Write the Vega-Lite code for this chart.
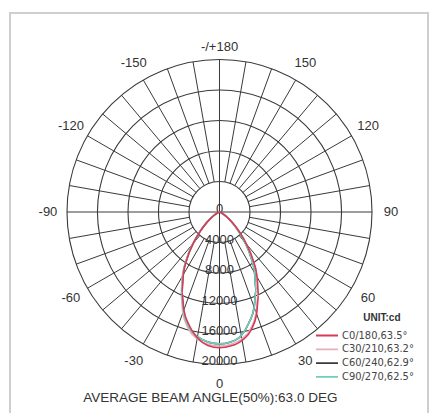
{
  "$schema": "https://vega.github.io/schema/vega-lite/v6.json",
  "width": 418,
  "height": 401,
  "autosize": "none",
  "padding": {"left": 10, "top": 13, "right": 9, "bottom": 0},
  "background": "white",
  "config": {"view": {"stroke": "#cfcfcf", "strokeWidth": 2}},
  "datasets": {
    "rings": [{"v": 4000}, {"v": 8000}, {"v": 12000}, {"v": 16000}, {"v": 20000}],
    "spokes": [
      {"a": -170}, {"a": -160}, {"a": -150}, {"a": -140}, {"a": -130}, {"a": -120}, {"a": -110}, {"a": -100}, {"a": -90},
      {"a": -80}, {"a": -70}, {"a": -60}, {"a": -50}, {"a": -40}, {"a": -30}, {"a": -20}, {"a": -10}, {"a": 0},
      {"a": 10}, {"a": 20}, {"a": 30}, {"a": 40}, {"a": 50}, {"a": 60}, {"a": 70}, {"a": 80}, {"a": 90},
      {"a": 100}, {"a": 110}, {"a": 120}, {"a": 130}, {"a": 140}, {"a": 150}, {"a": 160}, {"a": 170}, {"a": 180}
    ],
    "angleLabels": [
      {"a": 0, "label": "0"}, {"a": 30, "label": "30"}, {"a": 60, "label": "60"}, {"a": 90, "label": "90"},
      {"a": 120, "label": "120"}, {"a": 150, "label": "150"},
      {"a": -30, "label": "-30"}, {"a": -60, "label": "-60"}, {"a": -90, "label": "-90"},
      {"a": -120, "label": "-120"}, {"a": -150, "label": "-150"}
    ],
    "ringLabels": [
      {"v": 0, "label": "0"}, {"v": 4000, "label": "4000"}, {"v": 8000, "label": "8000"},
      {"v": 12000, "label": "12000"}, {"v": 16000, "label": "16000"}, {"v": 20000, "label": "20000"}
    ],
    "curves": [
      {"s": "C60/240,62.9°", "a": -90, "cd": 0}, {"s": "C60/240,62.9°", "a": -80, "cd": 0},
      {"s": "C60/240,62.9°", "a": -75, "cd": 35}, {"s": "C60/240,62.9°", "a": -70, "cd": 120}, {"s": "C60/240,62.9°", "a": -65, "cd": 310},
      {"s": "C60/240,62.9°", "a": -60, "cd": 690}, {"s": "C60/240,62.9°", "a": -55, "cd": 1300}, {"s": "C60/240,62.9°", "a": -50, "cd": 2250},
      {"s": "C60/240,62.9°", "a": -45, "cd": 3630}, {"s": "C60/240,62.9°", "a": -40, "cd": 5360}, {"s": "C60/240,62.9°", "a": -35, "cd": 7440},
      {"s": "C60/240,62.9°", "a": -30, "cd": 9600}, {"s": "C60/240,62.9°", "a": -25, "cd": 11760}, {"s": "C60/240,62.9°", "a": -20, "cd": 13840},
      {"s": "C60/240,62.9°", "a": -15, "cd": 15570}, {"s": "C60/240,62.9°", "a": -10, "cd": 16610}, {"s": "C60/240,62.9°", "a": -5, "cd": 17130},
      {"s": "C60/240,62.9°", "a": 0, "cd": 17300}, {"s": "C60/240,62.9°", "a": 5, "cd": 17100}, {"s": "C60/240,62.9°", "a": 10, "cd": 16450},
      {"s": "C60/240,62.9°", "a": 15, "cd": 15000}, {"s": "C60/240,62.9°", "a": 20, "cd": 13300}, {"s": "C60/240,62.9°", "a": 25, "cd": 11300},
      {"s": "C60/240,62.9°", "a": 30, "cd": 9200}, {"s": "C60/240,62.9°", "a": 35, "cd": 7150}, {"s": "C60/240,62.9°", "a": 40, "cd": 5150},
      {"s": "C60/240,62.9°", "a": 45, "cd": 3480}, {"s": "C60/240,62.9°", "a": 50, "cd": 2160}, {"s": "C60/240,62.9°", "a": 55, "cd": 1250},
      {"s": "C60/240,62.9°", "a": 60, "cd": 660}, {"s": "C60/240,62.9°", "a": 65, "cd": 300}, {"s": "C60/240,62.9°", "a": 70, "cd": 115},
      {"s": "C60/240,62.9°", "a": 75, "cd": 34}, {"s": "C60/240,62.9°", "a": 80, "cd": 0}, {"s": "C60/240,62.9°", "a": 90, "cd": 0},

      {"s": "C30/210,63.2°", "a": -90, "cd": 0}, {"s": "C30/210,63.2°", "a": -80, "cd": 0},
      {"s": "C30/210,63.2°", "a": -75, "cd": 35}, {"s": "C30/210,63.2°", "a": -70, "cd": 122}, {"s": "C30/210,63.2°", "a": -65, "cd": 315},
      {"s": "C30/210,63.2°", "a": -60, "cd": 700}, {"s": "C30/210,63.2°", "a": -55, "cd": 1320}, {"s": "C30/210,63.2°", "a": -50, "cd": 2280},
      {"s": "C30/210,63.2°", "a": -45, "cd": 3690}, {"s": "C30/210,63.2°", "a": -40, "cd": 5450}, {"s": "C30/210,63.2°", "a": -35, "cd": 7560},
      {"s": "C30/210,63.2°", "a": -30, "cd": 9760}, {"s": "C30/210,63.2°", "a": -25, "cd": 11950}, {"s": "C30/210,63.2°", "a": -20, "cd": 14060},
      {"s": "C30/210,63.2°", "a": -15, "cd": 15820}, {"s": "C30/210,63.2°", "a": -10, "cd": 16880}, {"s": "C30/210,63.2°", "a": -5, "cd": 17400},
      {"s": "C30/210,63.2°", "a": 0, "cd": 17580}, {"s": "C30/210,63.2°", "a": 5, "cd": 17400}, {"s": "C30/210,63.2°", "a": 10, "cd": 16880},
      {"s": "C30/210,63.2°", "a": 15, "cd": 15820}, {"s": "C30/210,63.2°", "a": 20, "cd": 14060}, {"s": "C30/210,63.2°", "a": 25, "cd": 11950},
      {"s": "C30/210,63.2°", "a": 30, "cd": 9760}, {"s": "C30/210,63.2°", "a": 35, "cd": 7560}, {"s": "C30/210,63.2°", "a": 40, "cd": 5450},
      {"s": "C30/210,63.2°", "a": 45, "cd": 3690}, {"s": "C30/210,63.2°", "a": 50, "cd": 2280}, {"s": "C30/210,63.2°", "a": 55, "cd": 1320},
      {"s": "C30/210,63.2°", "a": 60, "cd": 700}, {"s": "C30/210,63.2°", "a": 65, "cd": 315}, {"s": "C30/210,63.2°", "a": 70, "cd": 122},
      {"s": "C30/210,63.2°", "a": 75, "cd": 35}, {"s": "C30/210,63.2°", "a": 80, "cd": 0}, {"s": "C30/210,63.2°", "a": 90, "cd": 0},

      {"s": "C90/270,62.5°", "a": -90, "cd": 0}, {"s": "C90/270,62.5°", "a": -80, "cd": 0},
      {"s": "C90/270,62.5°", "a": -75, "cd": 35}, {"s": "C90/270,62.5°", "a": -70, "cd": 120}, {"s": "C90/270,62.5°", "a": -65, "cd": 310},
      {"s": "C90/270,62.5°", "a": -60, "cd": 690}, {"s": "C90/270,62.5°", "a": -55, "cd": 1300}, {"s": "C90/270,62.5°", "a": -50, "cd": 2250},
      {"s": "C90/270,62.5°", "a": -45, "cd": 3630}, {"s": "C90/270,62.5°", "a": -40, "cd": 5360}, {"s": "C90/270,62.5°", "a": -35, "cd": 7440},
      {"s": "C90/270,62.5°", "a": -30, "cd": 9600}, {"s": "C90/270,62.5°", "a": -25, "cd": 11760}, {"s": "C90/270,62.5°", "a": -20, "cd": 13840},
      {"s": "C90/270,62.5°", "a": -15, "cd": 15570}, {"s": "C90/270,62.5°", "a": -10, "cd": 16610}, {"s": "C90/270,62.5°", "a": -5, "cd": 17130},
      {"s": "C90/270,62.5°", "a": 0, "cd": 17300}, {"s": "C90/270,62.5°", "a": 5, "cd": 17100}, {"s": "C90/270,62.5°", "a": 10, "cd": 16450},
      {"s": "C90/270,62.5°", "a": 15, "cd": 15000}, {"s": "C90/270,62.5°", "a": 20, "cd": 13300}, {"s": "C90/270,62.5°", "a": 25, "cd": 11300},
      {"s": "C90/270,62.5°", "a": 30, "cd": 9200}, {"s": "C90/270,62.5°", "a": 35, "cd": 7150}, {"s": "C90/270,62.5°", "a": 40, "cd": 5150},
      {"s": "C90/270,62.5°", "a": 45, "cd": 3480}, {"s": "C90/270,62.5°", "a": 50, "cd": 2160}, {"s": "C90/270,62.5°", "a": 55, "cd": 1250},
      {"s": "C90/270,62.5°", "a": 60, "cd": 660}, {"s": "C90/270,62.5°", "a": 65, "cd": 300}, {"s": "C90/270,62.5°", "a": 70, "cd": 115},
      {"s": "C90/270,62.5°", "a": 75, "cd": 34}, {"s": "C90/270,62.5°", "a": 80, "cd": 0}, {"s": "C90/270,62.5°", "a": 90, "cd": 0},

      {"s": "C0/180,63.5°", "a": -90, "cd": 0}, {"s": "C0/180,63.5°", "a": -80, "cd": 0},
      {"s": "C0/180,63.5°", "a": -75, "cd": 34}, {"s": "C0/180,63.5°", "a": -70, "cd": 120}, {"s": "C0/180,63.5°", "a": -65, "cd": 305},
      {"s": "C0/180,63.5°", "a": -60, "cd": 680}, {"s": "C0/180,63.5°", "a": -55, "cd": 1290}, {"s": "C0/180,63.5°", "a": -50, "cd": 2220},
      {"s": "C0/180,63.5°", "a": -45, "cd": 3590}, {"s": "C0/180,63.5°", "a": -40, "cd": 5300}, {"s": "C0/180,63.5°", "a": -35, "cd": 7340},
      {"s": "C0/180,63.5°", "a": -30, "cd": 9480}, {"s": "C0/180,63.5°", "a": -25, "cd": 11620}, {"s": "C0/180,63.5°", "a": -20, "cd": 13670},
      {"s": "C0/180,63.5°", "a": -15, "cd": 15380}, {"s": "C0/180,63.5°", "a": -10, "cd": 16750}, {"s": "C0/180,63.5°", "a": -5, "cd": 17560},
      {"s": "C0/180,63.5°", "a": 0, "cd": 17800}, {"s": "C0/180,63.5°", "a": 5, "cd": 17620}, {"s": "C0/180,63.5°", "a": 10, "cd": 17090},
      {"s": "C0/180,63.5°", "a": 15, "cd": 16020}, {"s": "C0/180,63.5°", "a": 20, "cd": 14240}, {"s": "C0/180,63.5°", "a": 25, "cd": 12100},
      {"s": "C0/180,63.5°", "a": 30, "cd": 9880}, {"s": "C0/180,63.5°", "a": 35, "cd": 7650}, {"s": "C0/180,63.5°", "a": 40, "cd": 5520},
      {"s": "C0/180,63.5°", "a": 45, "cd": 3740}, {"s": "C0/180,63.5°", "a": 50, "cd": 2310}, {"s": "C0/180,63.5°", "a": 55, "cd": 1340},
      {"s": "C0/180,63.5°", "a": 60, "cd": 710}, {"s": "C0/180,63.5°", "a": 65, "cd": 320}, {"s": "C0/180,63.5°", "a": 70, "cd": 125},
      {"s": "C0/180,63.5°", "a": 75, "cd": 36}, {"s": "C0/180,63.5°", "a": 80, "cd": 0}, {"s": "C0/180,63.5°", "a": 90, "cd": 0}
    ]
  },
  "layer": [
    {
      "data": {"name": "rings"},
      "mark": {"type": "arc", "filled": false, "fill": null, "stroke": "#3a3a3a", "strokeWidth": 1.1, "theta": 0, "theta2": 6.2832},
      "encoding": {
        "x": {"datum": 0, "type": "quantitative", "scale": {"domain": [-27476, 27345], "nice": false, "zero": false}, "axis": null},
        "y": {"datum": 0, "type": "quantitative", "scale": {"domain": [-26492, 26099], "nice": false, "zero": false}, "axis": null},
        "radius": {"field": "v", "type": "quantitative", "stack": null, "scale": {"type": "linear", "domain": [0, 20000], "range": [0, 152.5], "zero": true}, "legend": null}
      }
    },
    {
      "data": {"name": "spokes"},
      "transform": [
        {"calculate": "4000 * sin(datum.a * PI / 180)", "as": "x1"},
        {"calculate": "-4000 * cos(datum.a * PI / 180)", "as": "y1"},
        {"calculate": "20000 * sin(datum.a * PI / 180)", "as": "x2"},
        {"calculate": "-20000 * cos(datum.a * PI / 180)", "as": "y2"}
      ],
      "mark": {"type": "rule", "stroke": "#3a3a3a", "strokeWidth": 1},
      "encoding": {
        "x": {"field": "x1", "type": "quantitative", "scale": {"domain": [-27476, 27345], "nice": false, "zero": false}, "axis": null},
        "y": {"field": "y1", "type": "quantitative", "scale": {"domain": [-26492, 26099], "nice": false, "zero": false}, "axis": null},
        "x2": {"field": "x2"},
        "y2": {"field": "y2"}
      }
    },
    {
      "data": {"values": [{}]},
      "mark": {"type": "rule", "stroke": "#3a3a3a", "strokeWidth": 1},
      "encoding": {
        "x": {"datum": -4000, "type": "quantitative", "scale": {"domain": [-27476, 27345], "nice": false, "zero": false}, "axis": null},
        "x2": {"datum": 4000},
        "y": {"datum": 0, "type": "quantitative", "scale": {"domain": [-26492, 26099], "nice": false, "zero": false}, "axis": null}
      }
    },
    {
      "data": {"values": [{}]},
      "mark": {"type": "rule", "stroke": "#3a3a3a", "strokeWidth": 1},
      "encoding": {
        "x": {"datum": 0, "type": "quantitative", "scale": {"domain": [-27476, 27345], "nice": false, "zero": false}, "axis": null},
        "y": {"datum": -4000, "type": "quantitative", "scale": {"domain": [-26492, 26099], "nice": false, "zero": false}, "axis": null},
        "y2": {"datum": 4000}
      }
    },
    {
      "data": {"name": "ringLabels"},
      "transform": [{"calculate": "-datum.v", "as": "neg"}],
      "mark": {"type": "text", "font": "Liberation Sans", "fontSize": 13, "fill": "#333", "align": "center", "baseline": "middle", "dy": -3},
      "encoding": {
        "x": {"datum": 0, "type": "quantitative", "scale": {"domain": [-27476, 27345], "nice": false, "zero": false}, "axis": null},
        "y": {"field": "neg", "type": "quantitative", "scale": {"domain": [-26492, 26099], "nice": false, "zero": false}, "axis": null},
        "text": {"field": "label"}
      }
    },
    {
      "data": {"name": "curves"},
      "transform": [
        {"calculate": "datum.cd * sin(datum.a * PI / 180)", "as": "x"},
        {"calculate": "-datum.cd * cos(datum.a * PI / 180)", "as": "y"}
      ],
      "mark": {"type": "line", "strokeWidth": 1.6, "interpolate": "monotone"},
      "encoding": {
        "x": {"field": "x", "type": "quantitative", "scale": {"domain": [-27476, 27345], "nice": false, "zero": false}, "axis": null},
        "y": {"field": "y", "type": "quantitative", "scale": {"domain": [-26492, 26099], "nice": false, "zero": false}, "axis": null},
        "order": {"field": "a", "type": "quantitative"},
        "color": {
          "field": "s", "type": "nominal",
          "scale": {"domain": ["C0/180,63.5°", "C30/210,63.2°", "C60/240,62.9°", "C90/270,62.5°"], "range": ["#d63a55", "#e3b0bc", "#3a3a3a", "#6fcfb8"]},
          "legend": {
            "orient": "none", "legendX": 305, "legendY": 317, "title": null,
            "labelFont": "Liberation Sans Narrow, DejaVu Sans Condensed, sans-serif", "labelFontSize": 11, "labelColor": "#444", "labelOffset": 3,
            "symbolType": "stroke", "symbolSize": 484, "symbolStrokeWidth": 1.8, "clipHeight": 11, "rowPadding": 1.8
          }
        }
      }
    },
    {
      "data": {"name": "angleLabels"},
      "transform": [
        {"calculate": "22500 * sin(datum.a * PI / 180)", "as": "lx"},
        {"calculate": "-22500 * cos(datum.a * PI / 180)", "as": "ly"}
      ],
      "mark": {"type": "text", "font": "Liberation Sans", "fontSize": 13, "fill": "#333", "align": "center", "baseline": "middle"},
      "encoding": {
        "x": {"field": "lx", "type": "quantitative", "scale": {"domain": [-27476, 27345], "nice": false, "zero": false}, "axis": null},
        "y": {"field": "ly", "type": "quantitative", "scale": {"domain": [-26492, 26099], "nice": false, "zero": false}, "axis": null},
        "text": {"field": "label"}
      }
    },
    {
      "data": {"values": [{"label": "-/+180"}]},
      "mark": {"type": "text", "font": "Liberation Sans", "fontSize": 13, "fill": "#333", "align": "center", "baseline": "middle"},
      "encoding": {
        "x": {"datum": 0, "type": "quantitative", "scale": {"domain": [-27476, 27345], "nice": false, "zero": false}, "axis": null},
        "y": {"datum": 21640, "type": "quantitative", "scale": {"domain": [-26492, 26099], "nice": false, "zero": false}, "axis": null},
        "text": {"field": "label"}
      }
    },
    {
      "data": {"values": [{"label": "UNIT:cd"}]},
      "mark": {"type": "text", "font": "Liberation Sans", "fontSize": 10, "fontWeight": "bold", "fill": "#333", "align": "center", "baseline": "middle"},
      "encoding": {
        "x": {"datum": 21300, "type": "quantitative", "scale": {"domain": [-27476, 27345], "nice": false, "zero": false}, "axis": null},
        "y": {"datum": -13900, "type": "quantitative", "scale": {"domain": [-26492, 26099], "nice": false, "zero": false}, "axis": null},
        "text": {"field": "label"}
      }
    },
    {
      "data": {"values": [{"label": "AVERAGE BEAM ANGLE(50%):63.0 DEG"}]},
      "mark": {"type": "text", "font": "Liberation Sans", "fontSize": 13.5, "fill": "#333", "align": "center", "baseline": "middle"},
      "encoding": {
        "x": {"datum": -1200, "type": "quantitative", "scale": {"domain": [-27476, 27345], "nice": false, "zero": false}, "axis": null},
        "y": {"datum": -24400, "type": "quantitative", "scale": {"domain": [-26492, 26099], "nice": false, "zero": false}, "axis": null},
        "text": {"field": "label"}
      }
    }
  ]
}
